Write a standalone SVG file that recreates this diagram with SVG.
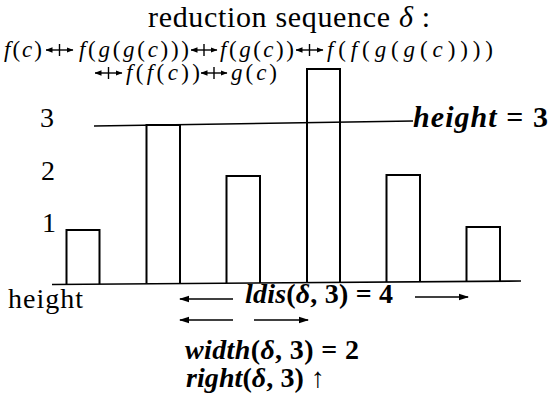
<svg xmlns="http://www.w3.org/2000/svg" width="550" height="403" viewBox="0 0 550 403" font-family="'Liberation Serif', 'DejaVu Serif', serif">
<defs>
<marker id="ah" markerWidth="10" markerHeight="8" refX="9" refY="4" orient="auto" markerUnits="userSpaceOnUse"><path d="M0,0.8 L10,4 L0,7.2 Z" fill="#000"/></marker>
<marker id="sh" markerWidth="7" markerHeight="6" refX="6.5" refY="3" orient="auto-start-reverse" markerUnits="userSpaceOnUse"><path d="M0,0.3 L7,3 L0,5.7 Z" fill="#000"/></marker>
<style>
text{fill:#000}
.t{font-size:30px}
.lab{font-size:28px}
.f{font-size:23px}
.fi{font-style:italic}
.m{font-size:28px;font-weight:bold}
.bar{fill:none;stroke:#000;stroke-width:2}
.ln{stroke:#000;stroke-width:1.6;fill:none}
.da{stroke:#000;stroke-width:1.6;marker-end:url(#ah)}
.dd{stroke:#000;stroke-width:1.4;marker-start:url(#sh);marker-end:url(#sh)}
.tk{stroke:#000;stroke-width:1.4}
</style>
</defs>
<rect width="550" height="403" fill="#fff"/>

<g id="title">
<text class="t" x="148" y="27" textLength="282">reduction sequence <tspan class="fi">δ</tspan> :</text>
</g>

<g id="sequence">
<text class="f" x="4" y="57" textLength="38"><tspan class="fi">f</tspan>(<tspan class="fi">c</tspan>)</text>
<text class="f" x="79" y="57" textLength="110"><tspan class="fi">f</tspan>(<tspan class="fi">g</tspan>(<tspan class="fi">g</tspan>(<tspan class="fi">c</tspan>)))</text>
<text class="f" x="220" y="57" textLength="74"><tspan class="fi">f</tspan>(<tspan class="fi">g</tspan>(<tspan class="fi">c</tspan>))</text>
<text class="f" x="327" y="57" textLength="166"><tspan class="fi">f</tspan>(<tspan class="fi">f</tspan>(<tspan class="fi">g</tspan>(<tspan class="fi">g</tspan>(<tspan class="fi">c</tspan>))))</text>
<text class="f" x="126" y="80" textLength="74"><tspan class="fi">f</tspan>(<tspan class="fi">f</tspan>(<tspan class="fi">c</tspan>))</text>
<text class="f" x="231" y="80" textLength="46"><tspan class="fi">g</tspan>(<tspan class="fi">c</tspan>)</text>
</g>

<g id="axis-labels">
<text class="lab" x="40" y="127">3</text>
<text class="lab" x="41" y="180">2</text>
<text class="lab" x="42" y="232">1</text>
<text class="lab" x="8" y="308" textLength="75">height</text>
</g>

<g id="bars">
<path class="bar" d="M66.5 284 V230 H99.5 V284"/>
<path class="bar" d="M146.5 283.5 V125 H180 V283.5"/>
<path class="bar" d="M226.5 283 V176 H260 V283"/>
<path class="bar" d="M307 282.5 V69 H340 V282.5"/>
<path class="bar" d="M386.5 282 V175 H420 V282"/>
<path class="bar" d="M466.5 281.5 V227 H500 V281.5"/>
<path class="ln" d="M52 284.5 L521 281" stroke-width="2"/>
</g>

<g id="height-line">
<line class="ln" x1="94" y1="126" x2="413" y2="121"/>
<text class="m" x="413" y="127" textLength="135" style="font-size:30px"><tspan class="fi">height</tspan> = 3</text>
</g>

<g id="connectors">
<line class="dd" x1="46" y1="50" x2="73" y2="50"/><line class="tk" x1="59.5" y1="44" x2="59.5" y2="56"/>
<line class="dd" x1="191" y1="50" x2="217" y2="50"/><line class="tk" x1="204" y1="44" x2="204" y2="56"/>
<line class="dd" x1="296" y1="50" x2="323" y2="50"/><line class="tk" x1="309.5" y1="44" x2="309.5" y2="56"/>
<line class="dd" x1="95" y1="73" x2="122" y2="73"/><line class="tk" x1="108.5" y1="67" x2="108.5" y2="79"/>
<line class="dd" x1="201" y1="73" x2="227" y2="73"/><line class="tk" x1="214" y1="67" x2="214" y2="79"/>
<line class="da" x1="233" y1="299" x2="180" y2="299"/>
<line class="da" x1="415" y1="297" x2="468" y2="297"/>
<line class="da" x1="233" y1="320" x2="180" y2="320"/>
<line class="da" x1="254" y1="320" x2="308" y2="320"/>
</g>

<g id="measures">
<text class="m" x="245" y="303" textLength="148"><tspan class="fi">ldis</tspan>(<tspan class="fi">δ</tspan>, 3) = 4</text>
<text class="m" x="185" y="359" textLength="174"><tspan class="fi">width</tspan>(<tspan class="fi">δ</tspan>, 3) = 2</text>
<text class="m" x="186" y="387" textLength="139"><tspan class="fi">right</tspan>(<tspan class="fi">δ</tspan>, 3) ↑</text>
</g>
</svg>
